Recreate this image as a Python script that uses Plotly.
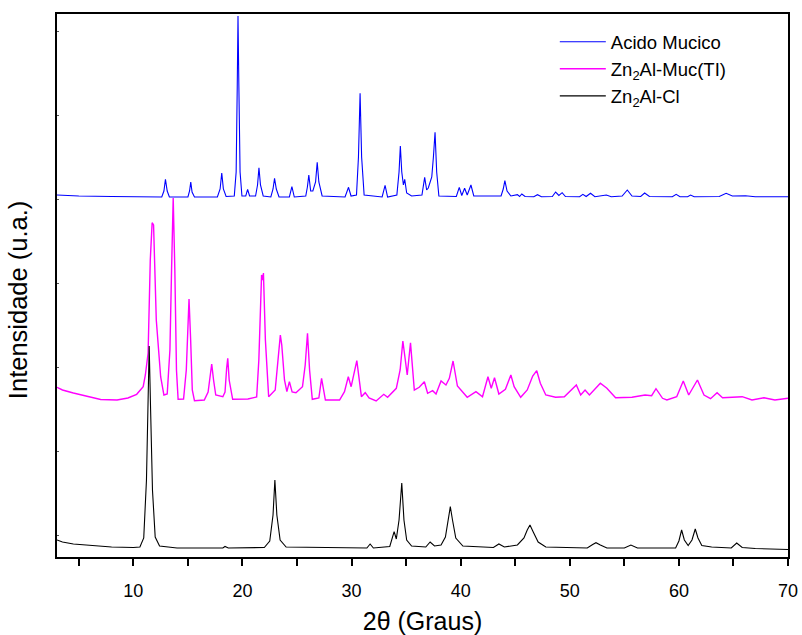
import plotly.graph_objects as go

# Diffractograms (2θ in degrees, stacked intensity in arbitrary units)
# Acido Mucico
tt_muc = [3.0, 5.0, 8.0, 12.6, 12.8, 12.94, 13.1, 13.3, 15.0, 15.15, 15.26, 15.38, 15.6,
          17.7, 17.95, 18.1, 18.25, 18.5, 19.25, 19.42, 19.52, 19.59, 19.67, 19.78, 19.95,
          20.3, 20.47, 20.65, 21.2, 21.38, 21.51, 21.65, 21.9, 22.6, 22.8, 22.94, 23.1, 23.35,
          24.3, 24.53, 24.75, 25.8, 25.95, 26.08, 26.25, 26.45, 26.7, 26.85, 27.0, 27.3,
          29.4, 29.72, 29.95, 30.45, 30.63, 30.78, 30.92, 31.15, 32.8, 33.07, 33.3,
          34.15, 34.35, 34.47, 34.6, 34.75, 34.87, 35.05, 35.5, 36.45, 36.7, 36.88, 37.03,
          37.35, 37.5, 37.65, 37.8, 38.0, 39.6, 39.87, 40.1, 40.36, 40.6, 40.94, 41.2,
          43.7, 43.9, 44.05, 44.25, 44.6, 45.2, 45.4, 45.6, 45.9, 46.7, 47.04, 47.4,
          48.4, 48.7, 49.0, 49.3, 49.6, 50.9, 51.2, 51.5, 51.9, 52.3, 53.35, 53.8,
          54.8, 55.27, 55.7, 56.5, 56.86, 57.3, 59.4, 59.75, 60.1, 60.8, 61.07, 61.4,
          63.7, 64.33, 64.9, 66.1, 67.0, 70.0]
i_muc = [362, 361, 360.5, 360, 366, 377.7, 366, 360, 360, 366, 375, 365, 360,
         360, 368, 384, 368, 360.5, 361, 385, 470, 541, 470, 385, 361,
         361, 367.7, 361, 361, 372, 389.3, 372, 361, 360, 368, 378.7, 368, 360,
         360, 370.3, 360, 361, 370, 382, 366, 366, 375, 394.7, 375, 361,
         360, 369.7, 361, 362, 400, 463.7, 400, 362, 360, 371.7, 360,
         362, 385, 411, 385, 372, 377.7, 364, 361, 362, 379.7, 367, 369,
         380, 400, 424.7, 385, 361, 360.5, 369.7, 361.5, 368.7, 362, 372, 361,
         361, 368, 376.3, 366, 361, 362.3, 360.5, 363, 360.5, 360.3, 362.3, 360.3,
         360.5, 365, 361.5, 364.3, 360.5, 360.3, 362.7, 360.5, 363.7, 360.3, 362, 360.3,
         361, 367, 361, 360.5, 364, 360.5, 360.3, 362.7, 360.3, 360.3, 362, 360.3,
         360.5, 363.7, 361, 361.3, 360.3, 360.3]

# Zn2Al-Muc(TI)
tt_ldh_muc = [3.0, 3.5, 4.5, 6.0, 7.0, 8.5, 9.5, 10.3, 10.9, 11.1, 11.35, 11.55, 11.72, 11.85,
              12.1, 12.5, 12.8, 13.1, 13.35, 13.5, 13.65, 13.8, 13.95, 14.1, 14.6, 14.85, 15.0,
              15.1, 15.25, 15.4, 15.6, 16.5, 16.85, 17.05, 17.18, 17.35, 17.55, 18.2, 18.4,
              18.55, 18.65, 18.78, 19.1, 20.5, 21.3, 21.5, 21.75, 21.85, 21.92, 22.1, 22.4,
              23.0, 23.25, 23.47, 23.6, 23.85, 24.07, 24.3, 24.55, 24.9, 25.5, 25.75, 25.96,
              26.15, 26.4, 27.0, 27.25, 27.6, 28.9, 29.35, 29.7, 29.96, 30.48, 30.9, 31.25,
              31.6, 32.25, 32.95, 33.3, 34.1, 34.45, 34.7, 35.1, 35.4, 35.75, 36.2, 36.67,
              36.97, 37.43, 37.74, 38.2, 38.65, 38.96, 39.3, 39.7, 40.0, 40.6, 41.4, 42.0,
              42.5, 42.8, 43.1, 43.5, 44.1, 44.6, 44.9, 45.5, 46.1, 46.6, 46.97, 47.3, 47.8,
              48.7, 49.5, 50.1, 50.6, 51.0, 51.4, 51.8, 52.4, 52.8, 53.4, 54.2, 55.7, 56.9,
              57.5, 57.9, 58.5, 58.9, 59.8, 60.4, 60.9, 61.7, 62.3, 62.9, 63.5, 64.0, 65.8,
              66.7, 67.8, 68.8, 70.0]
i_ldh_muc = [169.7, 167, 164, 160, 157.5, 157, 159, 162.7, 170.3, 182, 204, 297, 334.3, 332,
             237, 180.3, 162, 163, 207, 287, 359, 287, 187, 157.7, 158, 187, 237,
             258, 217, 167, 156.3, 157, 165, 185, 193, 177, 162, 160.3, 165,
             189, 198.7, 177, 157.7, 158, 160, 197, 282, 277, 284, 217, 160.3,
             167, 197, 222, 212, 177, 165.3, 175.3, 165, 164.3, 170.3, 192, 223.7,
             187, 157.7, 159, 178.7, 157, 157, 165.3, 180.3, 170.3, 196.3, 160.3, 164.3,
             159, 156, 162.7, 159.7, 168.7, 187, 216, 182, 214.3, 167, 169.7, 175.3,
             163.7, 166.3, 163, 176, 172, 178.7, 196, 171, 167, 159.7, 165.3, 160.3,
             180.3, 168.7, 179.3, 163, 167.7, 182, 170.3, 159.7, 167, 181, 186.3, 173.7, 162,
             159.7, 160.3, 167, 172, 162, 167, 162, 169.7, 173.7, 168.7, 159.3, 159.7, 162,
             161.3, 168.3, 158.7, 157, 160.3, 176, 162, 177, 162, 158.3, 164.3, 159.3, 160.3,
             157, 159.3, 157, 158.7]

# Zn2Al-Cl
tt_ldh_cl = [3.0, 3.5, 4.5, 6.0, 8.0, 10.0, 10.6, 10.95, 11.2, 11.35, 11.45, 11.58, 11.75,
             12.0, 12.4, 14.0, 18.2, 18.4, 18.7, 22.0, 22.5, 22.8, 22.97, 23.15, 23.45, 24.0,
             31.4, 31.7, 32.0, 33.5, 33.9, 34.1, 34.35, 34.6, 34.8, 35.05, 35.5, 36.8, 37.2,
             37.6, 38.2, 38.6, 38.85, 39.05, 39.25, 39.55, 40.2, 43.0, 43.5, 44.0, 45.2, 45.8,
             46.1, 46.35, 46.65, 47.1, 47.8, 51.6, 52.1, 52.4, 52.8, 53.4, 55.0, 55.6, 56.2,
             59.7, 60.0, 60.25, 60.5, 60.85, 61.2, 61.5, 61.75, 62.1, 63.0, 64.8, 65.3, 65.8,
             67.0, 70.0]
i_ldh_cl = [17, 15, 13, 11.5, 10, 9.5, 10, 19, 77, 157, 211, 147, 67,
            20, 11, 9, 9, 10.5, 9, 9.5, 16, 42, 77, 42, 17, 10,
            9, 13, 9, 10.5, 25.3, 18, 37, 74, 37, 17, 11, 10, 15,
            11, 12, 20, 37, 50.3, 37, 19, 11, 9.5, 13, 10, 12, 19,
            27, 32, 25, 15, 10, 9, 12.5, 14.3, 12, 9, 9, 12, 9,
            9, 16, 27, 17, 11.5, 17, 28, 19, 11.5, 10, 9, 14, 9.5,
            8.5, 7.5]

series = [
    ("Acido Mucico", tt_muc, i_muc, "#0000FF", 1.1),
    ("Zn<sub>2</sub>Al-Muc(TI)", tt_ldh_muc, i_ldh_muc, "#FF00FF", 1.4),
    ("Zn<sub>2</sub>Al-Cl", tt_ldh_cl, i_ldh_cl, "#000000", 1.1),
]

x_ticks = [10, 20, 30, 40, 50, 60, 70]
y_ticks = [22, 106, 190, 274, 358, 442, 526]

FONT = "Arial, Liberation Sans, sans-serif"

fig = go.Figure()
for name, tt, inten, color, lw in series:
    fig.add_trace(go.Scatter(x=tt, y=inten, mode="lines", name=name,
                             line=dict(color=color, width=lw)))

fig.update_layout(
    width=802, height=635,
    margin=dict(l=57, r=14, t=14, b=78, autoexpand=False),
    paper_bgcolor="white", plot_bgcolor="white",
    font=dict(family=FONT, color="black"),
    showlegend=True,
    legend=dict(x=0.681, y=0.983, xanchor="left", yanchor="top",
                bgcolor="rgba(0,0,0,0)", font=dict(size=18.5, family=FONT),
                itemwidth=46, tracegroupgap=2),
    xaxis=dict(range=[3, 70], tickvals=x_ticks, ticks="outside", ticklen=7,
               tickwidth=1.5, tickcolor="black", automargin=False,
               minor=dict(dtick=5, tick0=0, ticks="outside", ticklen=7,
                          tickwidth=1.5, tickcolor="black"),
               showline=True, linewidth=2, linecolor="black", mirror=True,
               showgrid=False, zeroline=False,
               tickfont=dict(size=18), ticklabelstandoff=9,
               title=dict(text="2θ (Graus)", font=dict(size=25), standoff=16)),
    yaxis=dict(range=[0, 543], tickvals=y_ticks, ticks="inside", ticklen=2,
               tickwidth=1, tickcolor="#555555", showticklabels=False,
               automargin=False,
               showline=True, linewidth=2, linecolor="black", mirror=True,
               showgrid=False, zeroline=False),
    annotations=[dict(text="Intensidade (u.a.)", textangle=-90, showarrow=False,
                      xref="paper", yref="paper", x=-0.0534, y=0.473,
                      xanchor="center", yanchor="middle",
                      font=dict(size=25.5, family=FONT))],
)

fig.write_html("out.html")
